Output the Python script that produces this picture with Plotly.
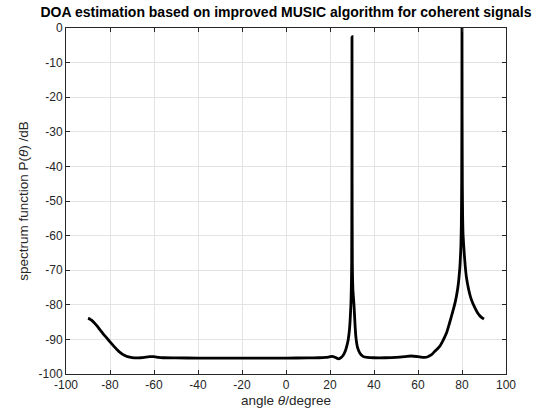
import plotly.graph_objects as go

# angle (degree) and spectrum (dB)
angle = [-90, -89.5, -89, -88.5, -88, -87.5, -87, -86, -85, -84, -83, -82, -81, -80, -79,
         -78, -77, -76, -75, -74, -73, -72, -71, -70, -68, -66, -64, -62, -60, -58, -56,
         -50, -40, -30, -20, -10, 0, 10, 15, 18, 20, 21, 22, 23, 24, 25, 26, 27, 27.8, 28.3,
         28.8, 29.1, 29.5, 29.7, 29.85, 29.95, 30.0, 30.05, 30.15, 30.4, 30.9, 31.4, 31.8,
         32.5, 33.6, 35, 37, 40, 45, 50, 54, 57, 60, 63, 64.5, 66, 67, 68, 69, 70, 71, 72,
         73, 74, 75, 76, 77, 78, 78.5, 79, 79.3, 79.5, 79.7, 79.85, 79.95, 80.0, 80.05,
         80.15, 80.3, 80.5, 81, 81.5, 82, 83, 84, 85, 86, 87, 88, 89, 90]
spectrum = [-83.9, -84.0, -84.2, -84.4, -84.65, -84.95, -85.3, -86.05, -86.85, -87.65,
            -88.45, -89.2, -89.95, -90.7, -91.45, -92.15, -92.85, -93.45, -93.95, -94.4,
            -94.75, -95.0, -95.15, -95.25, -95.35, -95.3, -95.15, -95.0, -95.0, -95.2,
            -95.3, -95.35, -95.4, -95.4, -95.4, -95.4, -95.4, -95.35, -95.3, -95.2, -95.0,
            -94.9, -95.1, -95.4, -95.6, -95.3, -94.6, -93.3, -91.5, -90.0, -87.5, -85.0,
            -80.0, -75.0, -68.0, -45.0, -2.5, -45.0, -68.0, -75.5, -80.0, -86.0, -89.5,
            -92.3, -94.0, -94.9, -95.2, -95.3, -95.3, -95.2, -95.0, -94.8, -95.0, -95.2,
            -95.0, -94.5, -93.9, -93.2, -92.6, -91.9, -90.8, -89.5, -88.1, -86.0, -83.8,
            -81.5, -79.0, -75.5, -73.0, -69.5, -66.0, -63.0, -57.0, -45.0, -25.0, 0.0,
            -25.0, -45.0, -55.0, -60.0, -65.0, -69.0, -72.0, -75.5, -78.0, -79.7, -81.0,
            -82.2, -83.1, -83.7, -84.1]

x_ticks = [-100, -80, -60, -40, -20, 0, 20, 40, 60, 80, 100]
y_ticks = [0, -10, -20, -30, -40, -50, -60, -70, -80, -90, -100]

FONT = "Liberation Sans, Arial, sans-serif"
AX = "#262626"
GRID = "#e3e3e3"

fig = go.Figure()
fig.add_trace(go.Scatter(x=angle, y=spectrum, mode="lines",
                         line=dict(color="black", width=2.8, shape="spline", smoothing=0.5),
                         showlegend=False))

axis_common = dict(
    showline=True, linecolor=AX, linewidth=1, mirror="ticks",
    ticks="inside", ticklen=4, tickcolor=AX, tickwidth=1,
    showgrid=True, gridcolor=GRID, gridwidth=1, zeroline=False,
    tickfont=dict(family=FONT, size=12, color=AX),
)

fig.update_layout(
    width=549, height=418,
    margin=dict(l=66, r=43, t=28, b=41),
    paper_bgcolor="white", plot_bgcolor="white",
    title=dict(text="<b>DOA estimation based on improved MUSIC algorithm for coherent signals</b>",
               x=0.5, xref="paper", xanchor="center",
               y=1 - 12 / 418, yref="container", yanchor="middle",
               font=dict(family=FONT, size=14, color="black")),
    xaxis=dict(range=[-100, 100], tickvals=x_ticks, ticktext=[str(v) for v in x_ticks],
               title=dict(text="angle <i>θ</i>/degree", standoff=4,
                          font=dict(family=FONT, size=13.5, color=AX)),
               **axis_common),
    yaxis=dict(range=[-100, 0], tickvals=y_ticks, ticktext=[str(v) for v in y_ticks],
               title=dict(text="spectrum function P(<i>θ</i>) /dB", standoff=6,
                          font=dict(family=FONT, size=13.5, color=AX)),
               **axis_common),
)

fig.write_html("out.html")
